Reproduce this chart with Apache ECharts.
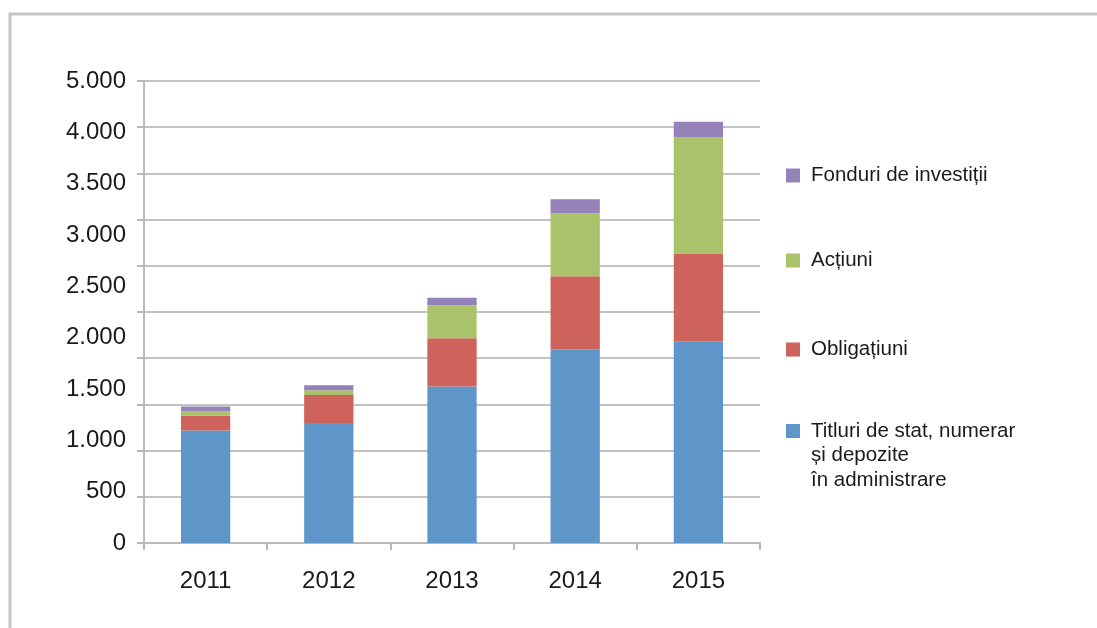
<!DOCTYPE html>
<html>
<head>
<meta charset="utf-8">
<script src="https://cdn.jsdelivr.net/npm/echarts@6/dist/echarts.min.js"></script>
<style>
  html, body { margin: 0; padding: 0; background: #ffffff; }
  #chart { width: 1097px; height: 628px; }
</style>
</head>
<body>
<div id="chart"></div>
<script>
// Categories and stacked series (valori, 2011-2015)
const years = ['2011', '2012', '2013', '2014', '2015'];
const titluri = [1218, 1298, 1695, 2093, 2183];
const obligatiuni = [163, 304, 521, 795, 951];
const actiuni = [43, 50, 358, 680, 1255];
const fonduri = [54, 54, 80, 152, 169];

// Labels printed along the vertical axis
const yTickLabels = ['0', '500', '1.000', '1.500', '2.000', '2.500', '3.000', '3.500', '4.000', '5.000'];

const seriesNames = [
  'Titluri de stat, numerar\nși depozite\nîn administrare',
  'Obligațiuni',
  'Acțiuni',
  'Fonduri de investiții'
];
const colors = ['#5f96ca', '#cd635a', '#aac36b', '#9582b8'];

const FONT = '"Liberation Sans", Arial, sans-serif';
const TEXT = '#1a1a1a';

const chart = echarts.init(document.getElementById('chart'), null, { renderer: 'canvas' });

function legendItem(name, top, label) {
  return {
    data: [{ name: name, icon: 'rect' }],
    left: 786,
    top: top,
    orient: 'vertical',
    padding: 0,
    itemWidth: 14,
    itemHeight: 14,
    formatter: function () { return label; },
    textStyle: {
      fontFamily: FONT,
      fontSize: 20.5,
      color: TEXT,
      lineHeight: 24.5,
      padding: [0, 0, 0, 6]
    }
  };
}

const option = {
  backgroundColor: '#ffffff',
  animation: false,
  color: colors,
  graphic: [{
    type: 'rect',
    z: -10,
    shape: { x: 10, y: 14, width: 1200, height: 700 },
    style: { fill: 'none', stroke: '#c6c6c6', lineWidth: 3 }
  }],
  legend: [
    legendItem(seriesNames[3], 175.5 - 12.25, 'Fonduri de investiții'),
    legendItem(seriesNames[2], 260.5 - 12.25, 'Acțiuni'),
    legendItem(seriesNames[1], 349.5 - 12.25, 'Obligațiuni'),
    legendItem(seriesNames[0], 431 - 61.25, '\n\nTitluri de stat, numerar\nși depozite\nîn administrare')
  ],
  grid: { left: 144, right: 337, top: 81, bottom: 85, containLabel: false },
  xAxis: {
    type: 'category',
    data: years,
    axisLine: { show: true, lineStyle: { color: '#b9b9b9', width: 2 } },
    axisTick: { show: true, alignWithLabel: false, length: 7, lineStyle: { color: '#b9b9b9', width: 2 } },
    axisLabel: { margin: 26, fontFamily: FONT, fontSize: 24, color: TEXT }
  },
  yAxis: [{
    type: 'value',
    min: 0,
    max: 5000,
    interval: 500,
    axisLine: { show: true, lineStyle: { color: '#b9b9b9', width: 2 } },
    axisTick: { show: true, length: 7, lineStyle: { color: '#b9b9b9', width: 2 } },
    axisLabel: { show: false },
    splitLine: { show: true, lineStyle: { color: '#c2c2c2', width: 2 } }
  }, {
    type: 'value',
    position: 'left',
    min: 0,
    max: yTickLabels.length - 1,
    interval: 1,
    axisLine: { show: false },
    axisTick: { show: false },
    splitLine: { show: false },
    axisLabel: {
      margin: 18,
      fontFamily: FONT,
      fontSize: 24,
      color: TEXT,
      padding: [5, 0, 0, 0],
      formatter: function (v) { return yTickLabels[Math.round(v)]; }
    }
  }],
  series: [
    { name: seriesNames[0], type: 'bar', stack: 'total', barWidth: '40%', data: titluri },
    { name: seriesNames[1], type: 'bar', stack: 'total', barWidth: '40%', data: obligatiuni },
    { name: seriesNames[2], type: 'bar', stack: 'total', barWidth: '40%', data: actiuni },
    { name: seriesNames[3], type: 'bar', stack: 'total', barWidth: '40%', data: fonduri }
  ]
};

chart.setOption(option);
</script>
</body>
</html>
